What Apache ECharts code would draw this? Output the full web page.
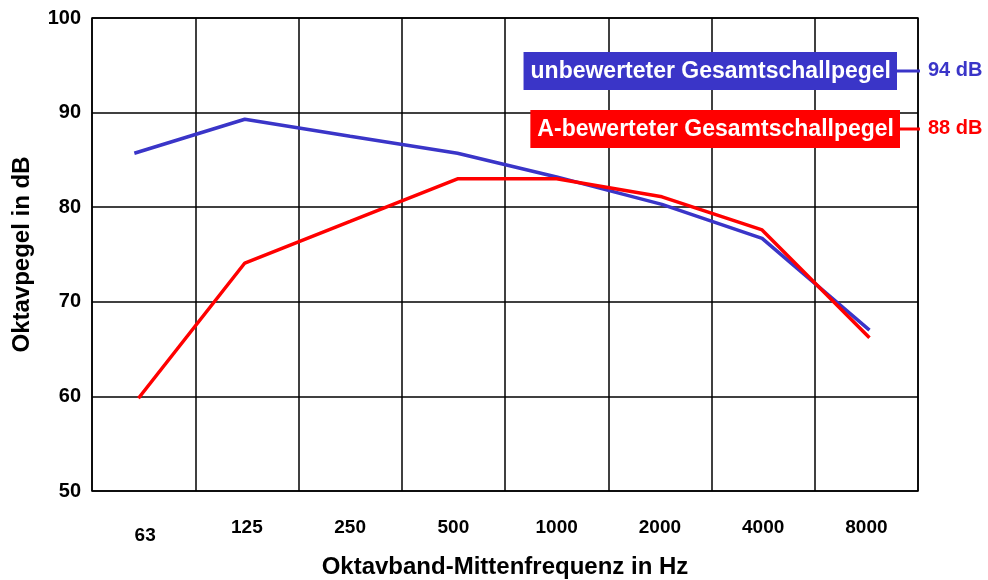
<!DOCTYPE html>
<html>
<head>
<meta charset="utf-8">
<script src="https://cdn.jsdelivr.net/npm/echarts@6/dist/echarts.min.js"></script>
<style>
  html, body { margin: 0; padding: 0; background: #fff; }
  #chart { width: 988px; height: 580px; }
</style>
</head>
<body>
<div id="chart"></div>
<script>
// Oktavbänder
const bands = ['63', '125', '250', '500', '1000', '2000', '4000', '8000'];

// Lage der Punkte innerhalb der Bandspalten (0 = linker Rand)
const bluePos = [0.41, 1.48, 2.5, 3.54, 4.5, 5.52, 6.49, 7.53];
const redPos = [0.45, 1.48, 2.5, 3.54, 4.5, 5.52, 6.49, 7.53];

// Oktavpegel in dB
const unweighted = [85.7, 89.3, 87.5, 85.7, 83.2, 80.3, 76.7, 67.0];
const aWeighted = [59.8, 74.1, 78.5, 83.0, 83.0, 81.1, 77.6, 66.2];

const seriesNames = ['unbewerteter Gesamtschallpegel', 'A-bewerteter Gesamtschallpegel'];
const totals = ['94 dB', '88 dB'];
const colors = ['#3a35c8', '#ff0000'];

const font = 'Liberation Sans, Arial, sans-serif';

const chart = echarts.init(document.getElementById('chart'));

const legendBox = (i, y, right) => [
  {
    type: 'text',
    right: right,
    top: y - 19,
    style: {
      text: seriesNames[i],
      fill: '#fff',
      font: 'bold 23px ' + font,
      backgroundColor: colors[i],
      padding: [8, 6, 7, 7]
    },
    z: 10
  },
  {
    type: 'line',
    shape: { x1: 988 - right, y1: y, x2: 920, y2: y },
    style: { stroke: colors[i], lineWidth: 3 },
    z: 10
  },
  {
    type: 'text',
    left: 928,
    top: y - 11,
    style: {
      text: totals[i],
      fill: colors[i],
      font: 'bold 20px ' + font
    },
    z: 10
  }
];

chart.setOption({
  animation: false,
  backgroundColor: '#fff',
  textStyle: { fontFamily: font },
  grid: {
    left: 92, right: 70, top: 18, bottom: 89,
    outerBoundsMode: 'none',
    show: true, borderColor: '#000', borderWidth: 1.5
  },
  xAxis: [
    {
      type: 'category',
      data: bands,
      boundaryGap: true,
      axisLine: { show: false },
      axisTick: { show: false },
      axisLabel: {
        color: '#000', fontWeight: 'bold', fontSize: 19, margin: 27,
        formatter: (v, i) => (i === 0 ? '{low|' + v + '}' : v),
        rich: {
          low: { color: '#000', fontWeight: 'bold', fontSize: 19, padding: [8, 0, 0, 3] }
        }
      },
      splitLine: { show: true, interval: 0, lineStyle: { color: '#000', width: 1.5 } },
      name: 'Oktavband-Mittenfrequenz in Hz',
      nameLocation: 'middle',
      nameGap: 64,
      nameTextStyle: { color: '#000', fontWeight: 'bold', fontSize: 24 }
    },
    {
      type: 'value',
      min: 0, max: 8, interval: 1,
      show: false
    }
  ],
  yAxis: {
    type: 'value',
    min: 50, max: 100, interval: 10,
    axisLine: { show: false },
    axisTick: { show: false },
    axisLabel: { color: '#000', fontWeight: 'bold', fontSize: 20, margin: 11 },
    splitLine: { lineStyle: { color: '#000', width: 1.5 } },
    name: 'Oktavpegel in dB',
    nameLocation: 'middle',
    nameGap: 58,
    nameTextStyle: { color: '#000', fontWeight: 'bold', fontSize: 24 }
  },
  series: [
    {
      name: seriesNames[0],
      type: 'line',
      xAxisIndex: 1,
      data: unweighted.map((v, i) => [bluePos[i], v]),
      symbol: 'none',
      lineStyle: { color: colors[0], width: 3.5 },
      z: 3
    },
    {
      name: seriesNames[1],
      type: 'line',
      xAxisIndex: 1,
      data: aWeighted.map((v, i) => [redPos[i], v]),
      symbol: 'none',
      lineStyle: { color: colors[1], width: 3.5 },
      z: 4
    }
  ],
  graphic: [].concat(legendBox(0, 71, 91), legendBox(1, 129, 88))
});
</script>
</body>
</html>
